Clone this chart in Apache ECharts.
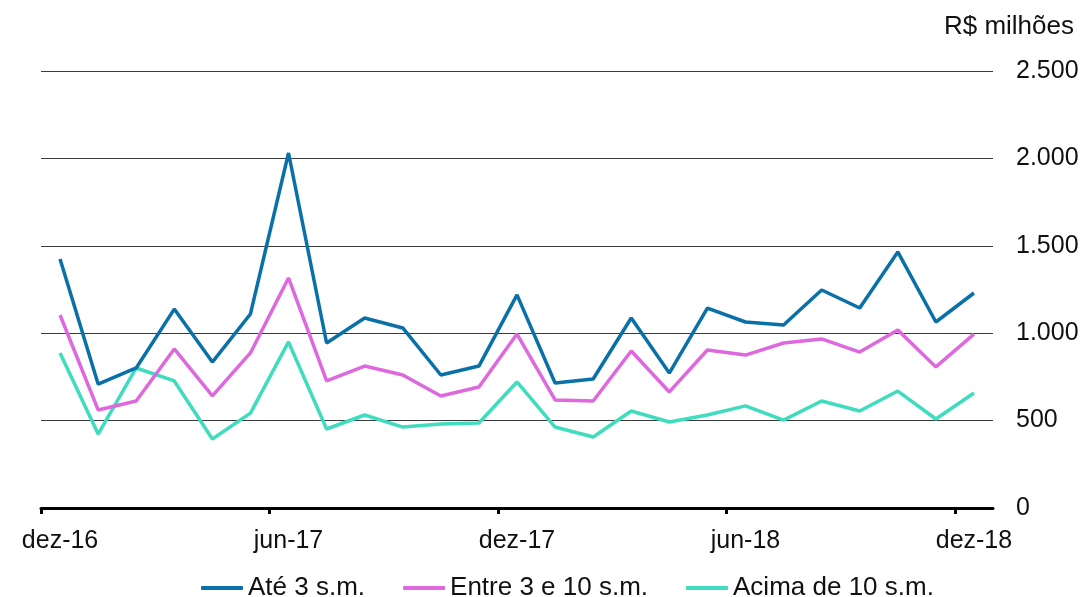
<!DOCTYPE html>
<html>
<head>
<meta charset="utf-8">
<script src="https://cdn.jsdelivr.net/npm/echarts@6/dist/echarts.min.js"></script>
<style>
  html, body { margin: 0; padding: 0; background: #fff; }
  #chart { width: 1084px; height: 597px; }
</style>
</head>
<body>
<div id="chart"></div>
<script>
// Monthly values, R$ millions, Dec 2016 – Dec 2018
const months = [
  'dez-16', 'jan-17', 'fev-17', 'mar-17', 'abr-17', 'mai-17', 'jun-17',
  'jul-17', 'ago-17', 'set-17', 'out-17', 'nov-17', 'dez-17',
  'jan-18', 'fev-18', 'mar-18', 'abr-18', 'mai-18', 'jun-18',
  'jul-18', 'ago-18', 'set-18', 'out-18', 'nov-18', 'dez-18'
];
const ate3 = [1425, 709, 801, 1138, 835, 1110, 2031, 944, 1087, 1030, 761, 812, 1219,
              715, 738, 1087, 772, 1144, 1064, 1047, 1247, 1144, 1465, 1064, 1230];
const entre3e10 = [1104, 561, 612, 910, 641, 887, 1316, 727, 812, 761, 641, 692, 995,
                   618, 612, 898, 664, 904, 875, 944, 967, 892, 1018, 807, 995];
const acima10 = [887, 423, 801, 727, 395, 543, 950, 452, 532, 463, 481, 486, 721,
                 463, 406, 555, 492, 532, 584, 503, 612, 555, 669, 509, 658];
const seriesNames = ['Até 3 s.m.', 'Entre 3 e 10 s.m.', 'Acima de 10 s.m.'];
const yTicks = [0, 500, 1000, 1500, 2000, 2500];
const labelIdx = [0, 6, 12, 18, 24];

const colors = ['#0a70a8', '#de68de', '#3fdcbd'];
const FONT = 'Liberation Sans, Arial, sans-serif';

const fmt = v => String(v).replace(/\B(?=(\d{3})+(?!\d))/g, '.');
const pairs = arr => arr.map((v, i) => [i, v]);

const chart = echarts.init(document.getElementById('chart'), null, { renderer: 'canvas' });
chart.setOption({
  animation: false,
  backgroundColor: '#fff',
  color: colors,
  title: {
    text: 'R$ milhões',
    right: 5, top: 9,
    textStyle: { fontFamily: FONT, fontSize: 26, fontWeight: 'normal', color: '#111' }
  },
  grid: { left: 41, right: 91, top: 71, bottom: 89 },
  legend: {
    left: 196, top: 570,
    icon: 'roundRect', itemWidth: 42, itemHeight: 4, itemGap: 38,
    textStyle: { fontFamily: FONT, fontSize: 26, color: '#111' },
    data: seriesNames
  },
  xAxis: {
    type: 'value',
    min: -0.5, max: months.length - 0.5,
    axisLine: { show: true, lineStyle: { color: '#000', width: 3 } },
    axisTick: {
      show: true, length: 6, lineStyle: { color: '#000', width: 3 },
      customValues: labelIdx.map(i => i - 0.5)
    },
    axisLabel: {
      customValues: labelIdx,
      formatter: v => months[Math.round(v)],
      fontFamily: FONT, fontSize: 25, color: '#111', margin: 21
    },
    splitLine: { show: false }
  },
  yAxis: {
    type: 'value',
    position: 'right',
    min: yTicks[0], max: yTicks[yTicks.length - 1], interval: 500,
    axisLine: { show: false },
    axisTick: { show: false },
    axisLabel: {
      formatter: v => fmt(v),
      fontFamily: FONT, fontSize: 25, color: '#111', margin: 23
    },
    splitLine: { show: true, lineStyle: { color: '#3a3a3a', width: 1.2 } }
  },
  series: [
    { name: seriesNames[0], data: pairs(ate3) },
    { name: seriesNames[1], data: pairs(entre3e10) },
    { name: seriesNames[2], data: pairs(acima10) }
  ].map((s, k) => Object.assign({
    type: 'line',
    symbol: 'none',
    lineStyle: { width: 3.5, color: colors[k] },
    itemStyle: { color: colors[k] },
    z: 3 - k
  }, s))
});
</script>
</body>
</html>
